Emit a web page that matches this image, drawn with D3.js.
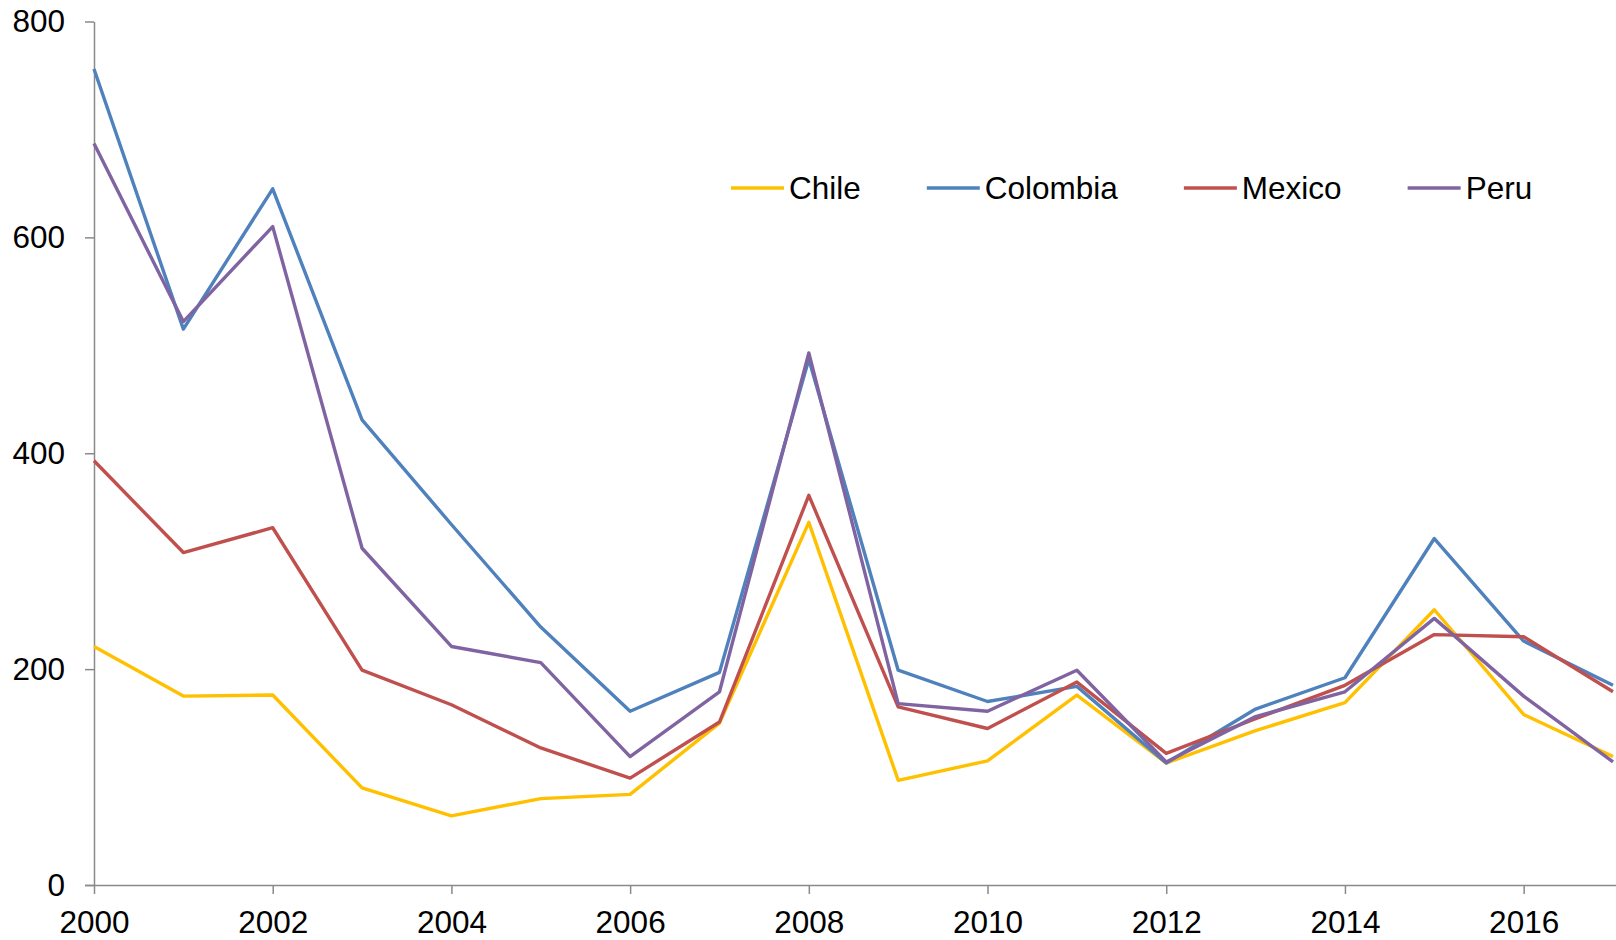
<!DOCTYPE html>
<html>
<head>
<meta charset="utf-8">
<script src="https://cdn.jsdelivr.net/npm/d3@7"></script>
<style>
  html, body { margin: 0; padding: 0; background: #fff; }
  svg { display: block; font-family: "Liberation Sans", Arial, sans-serif; }
</style>
</head>
<body>
<svg id="chart" width="1616" height="940"></svg>
<script>
// Yearly series, 2000–2017
const years = [2000, 2001, 2002, 2003, 2004, 2005, 2006, 2007, 2008,
               2009, 2010, 2011, 2012, 2013, 2014, 2015, 2016, 2017];
const chile    = [221, 175, 176, 90, 64, 80, 84, 150, 336, 97, 115, 176, 113, 143, 169, 255, 158, 119];
const colombia = [756, 515, 645, 431, 334, 239, 161, 197, 487, 199, 170, 184, 113, 163, 192, 321, 226, 185];
const mexico   = [393, 308, 331, 199, 167, 127, 99, 151, 361, 165, 145, 188, 122, 154, 185, 232, 230, 179];
const peru     = [687, 522, 610, 312, 221, 206, 119, 179, 493, 168, 161, 199, 114, 156, 179, 247, 175, 114];

const seriesNames = ["Chile", "Colombia", "Mexico", "Peru"];
const seriesValues = [chile, colombia, mexico, peru];
const seriesColors = ["#FFC000", "#4F81BD", "#C0504D", "#8064A2"];

const xTicks = [2000, 2002, 2004, 2006, 2008, 2010, 2012, 2014, 2016];
const yTicks = [0, 200, 400, 600, 800];

const svg = d3.select("#chart");
const axisColor = "#8a8a8a";
const fontSize = 31.5;

const x = d3.scaleLinear().domain([2000, 2017]).range([94, 1613]);
const y = d3.scaleLinear().domain([0, 800]).range([885, 21.5]);

// Y axis
const yAxis = svg.append("g")
  .attr("transform", `translate(${x(2000)},0)`)
  .call(d3.axisLeft(y).tickValues(yTicks).tickSize(9).tickPadding(20).tickSizeOuter(0));
yAxis.select(".domain").attr("stroke", axisColor).attr("stroke-width", 1.5);
yAxis.selectAll(".tick line").attr("stroke", axisColor).attr("stroke-width", 1.5);
yAxis.selectAll(".tick text")
  .attr("fill", "#000").attr("font-size", fontSize)
  .attr("font-family", "'Liberation Sans', Arial, sans-serif");

// X axis
const xAxis = svg.append("g")
  .attr("transform", `translate(0,${y(0)})`)
  .call(d3.axisBottom(x).tickValues(xTicks).tickFormat(d3.format("d"))
        .tickSize(9).tickPadding(17).tickSizeOuter(0));
xAxis.select(".domain").attr("stroke", axisColor).attr("stroke-width", 1.5)
  .attr("d", `M${x(2000) - 9},0.5H1616`);
xAxis.selectAll(".tick line").attr("stroke", axisColor).attr("stroke-width", 1.5);
xAxis.selectAll(".tick text")
  .attr("fill", "#000").attr("font-size", fontSize)
  .attr("font-family", "'Liberation Sans', Arial, sans-serif");

// Lines
const line = d3.line()
  .x((d, i) => x(years[i]))
  .y(d => y(d));

seriesValues.forEach((vals, k) => {
  svg.append("path")
    .datum(vals)
    .attr("fill", "none")
    .attr("stroke", seriesColors[k])
    .attr("stroke-width", 3.4)
    .attr("stroke-linejoin", "round")
    .attr("d", line);
});

// Legend
const legend = svg.append("g").attr("transform", "translate(731,188)");
let cursor = 0;
seriesNames.forEach((name, k) => {
  const g = legend.append("g").attr("transform", `translate(${cursor},0)`);
  g.append("line")
    .attr("x1", 0).attr("x2", 53).attr("y1", 0).attr("y2", 0)
    .attr("stroke", seriesColors[k]).attr("stroke-width", 3.4);
  const t = g.append("text")
    .attr("x", 58).attr("y", 0).attr("dy", "0.35em")
    .attr("font-size", fontSize).attr("fill", "#000")
    .text(name);
  cursor += 58 + t.node().getComputedTextLength() + 66;
});
</script>
</body>
</html>
